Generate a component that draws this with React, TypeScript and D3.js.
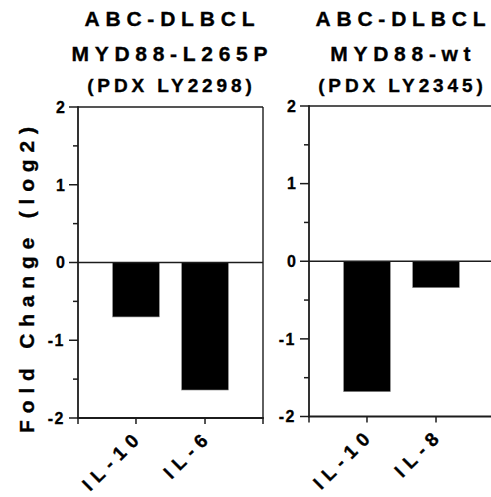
import React from "react";
import * as d3 from "d3";

const leftTitle = ["ABC-DLBCL", "MYD88-L265P", "(PDX LY2298)"];
const rightTitle = ["ABC-DLBCL", "MYD88-wt", "(PDX LY2345)"];
const leftCategories = ["IL-10", "IL-6"];
const leftValues = [-0.7, -1.64];
const rightCategories = ["IL-10", "IL-8"];
const rightValues = [-1.68, -0.34];
const yMajorTicks = [-2, -1, 0, 1, 2];
const yMinorTicks = [-1.5, -0.5, 0.5, 1.5];
const yAxisTitle = "Fold Change (log2)";

const FONT = "'Liberation Sans', Arial, sans-serif";
const INK = "#1c1c1c";

type PanelProps = {
  x0: number;
  x1: number;
  yTop: number;
  yBottom: number;
  title: string[];
  categories: string[];
  values: number[];
};

function Panel({ x0, x1, yTop, yBottom, title, categories, values }: PanelProps) {
  const y = d3.scaleLinear().domain([-2, 2]).range([yBottom, yTop]);
  const x = d3.scalePoint<string>().domain(categories).range([x0, x1]).padding(0.84);
  const barW = x.step() * 0.676;
  const cx = (x0 + x1) / 2 - 1;
  const titleCfg = [
    { size: 21, ls: 5.8, y: 26 },
    { size: 21, ls: 5.7, y: 61 },
    { size: 19, ls: 3.9, y: 92 },
  ];
  const xlLs = 6.6;
  return (
    <g>
      {title.map((t, i) => (
        <text
          key={i}
          x={cx + titleCfg[i].ls / 2}
          y={titleCfg[i].y}
          textAnchor="middle"
          fontFamily={FONT}
          fontWeight={700}
          fontSize={titleCfg[i].size}
          letterSpacing={titleCfg[i].ls}
          fill="#000"
          stroke="#000"
          strokeWidth={0.35}
        >
          {t}
        </text>
      ))}
      {categories.map((c, i) => {
        const v = values[i];
        const yA = y(Math.max(0, v));
        const yB = y(Math.min(0, v));
        return (
          <rect
            key={c}
            x={(x(c) as number) - barW / 2}
            y={yA}
            width={barW}
            height={yB - yA}
            fill="#000"
            stroke="#888"
            strokeWidth={0.6}
          />
        );
      })}
      <line x1={x0} x2={x1} y1={y(0)} y2={y(0)} stroke={INK} strokeWidth={1.3} />
      <line x1={x0} x2={x1} y1={y(2)} y2={y(2)} stroke={INK} strokeWidth={1.6} />
      <line x1={x1} x2={x1} y1={y(2)} y2={y(-2)} stroke={INK} strokeWidth={1.4} />
      <line x1={x0} x2={x0} y1={y(2) - 0.8} y2={y(-2) + 0.8} stroke={INK} strokeWidth={1.8} />
      {yMajorTicks.map((t) => (
        <g key={"M" + t}>
          <line x1={x0 - 9} x2={x0} y1={y(t)} y2={y(t)} stroke={INK} strokeWidth={1.5} />
          <text
            x={x0 - 13}
            y={y(t)}
            dy="0.36em"
            textAnchor="end"
            fontFamily={FONT}
            fontWeight={700}
            fontSize={16}
            letterSpacing={t < 0 ? 1.5 : 0}
            fill="#000"
            stroke="#000"
            strokeWidth={0.3}
          >
            {t < 0 ? "-" + Math.abs(t) : String(t)}
          </text>
        </g>
      ))}
      {yMinorTicks.map((t) => (
        <line key={"m" + t} x1={x0 - 5} x2={x0} y1={y(t)} y2={y(t)} stroke={INK} strokeWidth={1.5} />
      ))}
      <line x1={x0 - 0.8} x2={x1 + 0.8} y1={y(-2)} y2={y(-2)} stroke={INK} strokeWidth={1.8} />
      {[x0, ...categories.map((c) => x(c) as number), x1].map((px, i) => (
        <line key={"xt" + i} x1={px} x2={px} y1={y(-2)} y2={y(-2) + 6} stroke={INK} strokeWidth={1.5} />
      ))}
      {categories.map((c) => {
        const px = (x(c) as number) + 4;
        const py = y(-2) + 24;
        return (
          <text
            key={"xl" + c}
            transform={`translate(${px},${py}) rotate(-45)`}
            x={xlLs}
            textAnchor="end"
            fontFamily={FONT}
            fontWeight={700}
            fontSize={19}
            letterSpacing={xlLs}
            fill="#000"
            stroke="#000"
            strokeWidth={0.35}
          >
            {c}
          </text>
        );
      })}
    </g>
  );
}

export default function App() {
  return (
    <svg
      width={491}
      height={497}
      viewBox="0 0 491 497"
      style={{ position: "absolute", left: 0, top: 0, background: "#fff" }}
    >
      <rect x={0} y={0} width={491} height={497} fill="#fff" />
      <text
        transform={`translate(34,280) rotate(-90)`}
        x={3.4}
        textAnchor="middle"
        fontFamily={FONT}
        fontWeight={700}
        fontSize={21}
        letterSpacing={6.8}
        fill="#000"
        stroke="#000"
        strokeWidth={0.35}
      >
        {yAxisTitle}
      </text>
      <Panel
        x0={78}
        x1={263}
        yTop={107}
        yBottom={418}
        title={leftTitle}
        categories={leftCategories}
        values={leftValues}
      />
      <Panel
        x0={309}
        x1={494}
        yTop={106}
        yBottom={416.5}
        title={rightTitle}
        categories={rightCategories}
        values={rightValues}
      />
    </svg>
  );
}
